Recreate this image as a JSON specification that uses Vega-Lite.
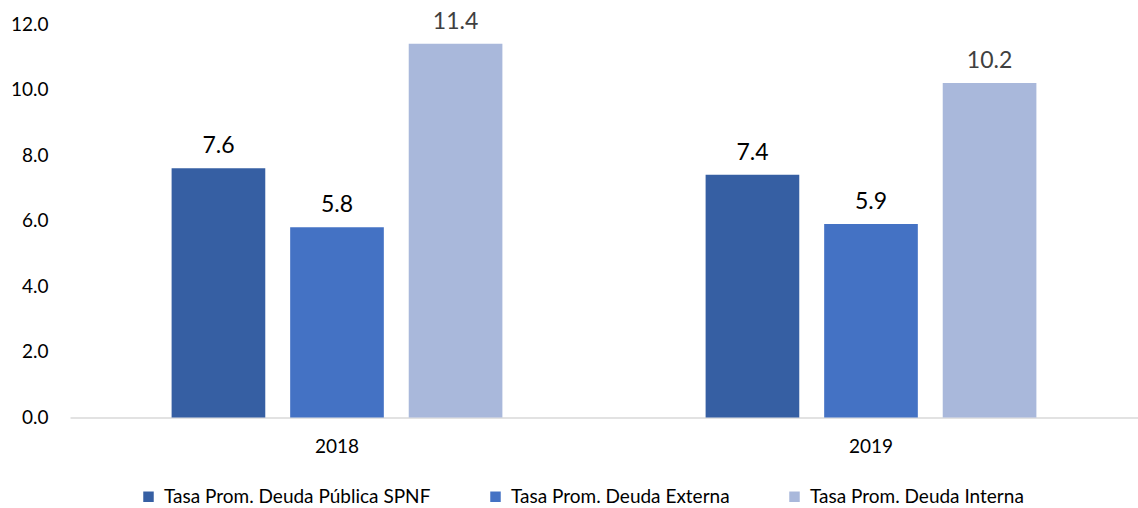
{
  "$schema": "https://vega.github.io/schema/vega-lite/v6.json",
  "autosize": {"type": "none"},
  "padding": {"left": 70, "top": 24, "right": 0, "bottom": 90.5},
  "width": 1068,
  "height": 393.5,
  "background": "white",
  "config": {"view": {"stroke": null}, "font": "Lato"},
  "data": {
    "values": [
      {"year": "2018", "serie": "Tasa Prom. Deuda Pública SPNF", "valor": 7.6},
      {"year": "2018", "serie": "Tasa Prom. Deuda Externa", "valor": 5.8},
      {"year": "2018", "serie": "Tasa Prom. Deuda Interna", "valor": 11.4},
      {"year": "2019", "serie": "Tasa Prom. Deuda Pública SPNF", "valor": 7.4},
      {"year": "2019", "serie": "Tasa Prom. Deuda Externa", "valor": 5.9},
      {"year": "2019", "serie": "Tasa Prom. Deuda Interna", "valor": 10.2}
    ]
  },
  "encoding": {
    "x": {
      "field": "year", "type": "nominal",
      "scale": {"paddingInner": 0, "paddingOuter": 0},
      "axis": {"title": null, "labelAngle": 0, "ticks": false, "domainColor": "#d9d9d9", "domainWidth": 1.5, "labelFontSize": 19, "labelColor": "#000000", "labelPadding": 20}
    },
    "xOffset": {
      "field": "serie", "type": "nominal",
      "sort": ["Tasa Prom. Deuda Pública SPNF", "Tasa Prom. Deuda Externa", "Tasa Prom. Deuda Interna"],
      "scale": {"paddingInner": 0.21, "paddingOuter": 0.857}
    },
    "y": {
      "field": "valor", "type": "quantitative",
      "scale": {"domain": [0, 12]},
      "axis": {"title": null, "values": [0, 2, 4, 6, 8, 10, 12], "format": ".1f", "grid": false, "domain": false, "ticks": false, "labelFontSize": 19, "labelColor": "#000000", "labelPadding": 22}
    }
  },
  "layer": [
    {
      "mark": {"type": "bar"},
      "encoding": {
        "color": {
          "field": "serie", "type": "nominal",
          "sort": ["Tasa Prom. Deuda Pública SPNF", "Tasa Prom. Deuda Externa", "Tasa Prom. Deuda Interna"],
          "scale": {"domain": ["Tasa Prom. Deuda Pública SPNF", "Tasa Prom. Deuda Externa", "Tasa Prom. Deuda Interna"], "range": ["#365FA3", "#4472C4", "#A9B8DB"]},
          "legend": {
            "title": null, "orient": "none", "direction": "horizontal",
            "legendX": 69, "legendY": 463,
            "symbolType": "square", "symbolSize": 110, "symbolStrokeWidth": 0,
            "labelFontSize": 19, "labelColor": "#000000", "labelLimit": 0, "columnPadding": 55, "labelOffset": 6
          }
        }
      }
    },
    {
      "mark": {"type": "text", "baseline": "bottom", "dy": -10, "fontSize": 23},
      "encoding": {
        "text": {"field": "valor", "type": "quantitative", "format": ".1f"},
        "color": {
          "condition": {"test": "datum.serie === 'Tasa Prom. Deuda Interna'", "value": "#404040"},
          "value": "#000000"
        }
      }
    }
  ]
}
